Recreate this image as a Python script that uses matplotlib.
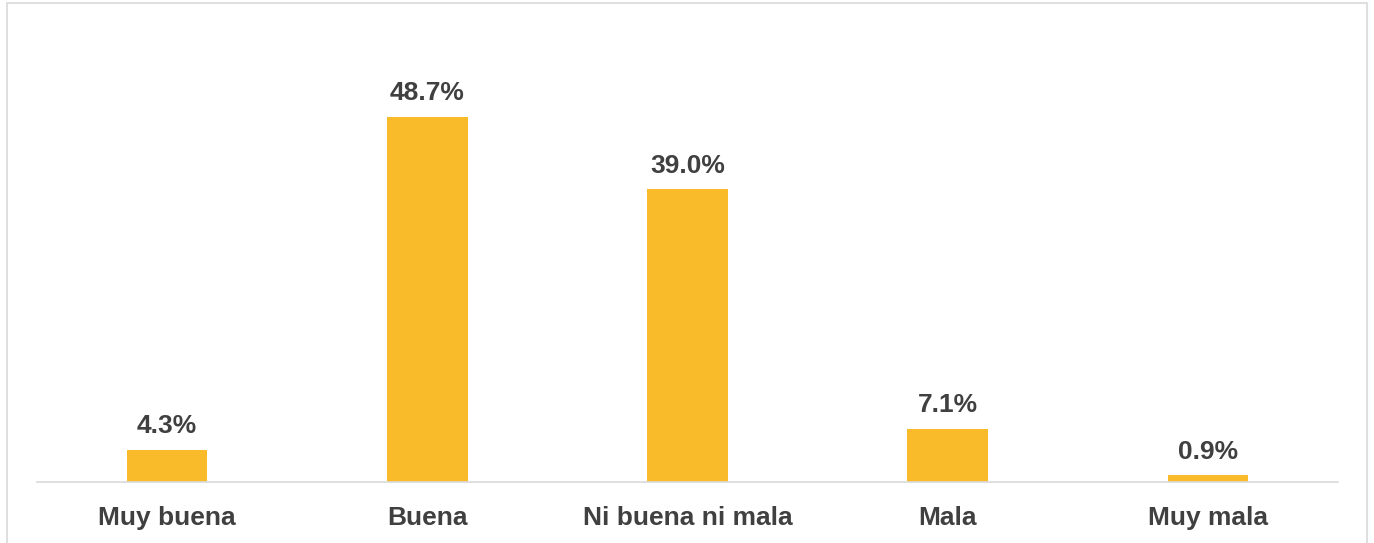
import matplotlib.pyplot as plt
from matplotlib.patches import Rectangle

categories = ["Muy buena", "Buena", "Ni buena ni mala", "Mala", "Muy mala"]
values = [4.3, 48.7, 39.0, 7.1, 0.9]
labels = ["4.3%", "48.7%", "39.0%", "7.1%", "0.9%"]

W, H = 1374, 543
plt.rcParams['font.family'] = ['Liberation Sans', 'DejaVu Sans']

fig = plt.figure(figsize=(W / 100, H / 100), dpi=100)
ax = fig.add_axes([37 / W, (H - 482) / H, (1338 - 37) / W, (482 - 30) / H])

x = range(len(categories))
ax.bar(x, values, width=0.31, color='#F9BB2A', zorder=2)
for xi, v, lab in zip(x, values, labels):
    ax.annotate(lab, (xi, v), xytext=(0, 17), textcoords='offset points',
                ha='center', va='center', fontsize=19, fontweight='bold', color='#404040')

ax.set_xlim(-0.5, 4.5)
ax.set_ylim(0, (482 - 30) / 7.5)
ax.set_xticks(list(x))
ax.set_xticklabels(categories, fontsize=19, fontweight='bold', color='#404040')
ax.tick_params(axis='x', length=0, pad=17)
ax.set_yticks([])
for s in ['top', 'left', 'right']:
    ax.spines[s].set_visible(False)
ax.spines['bottom'].set_color('#d9d9d9')
ax.spines['bottom'].set_linewidth(1.2)

# outer chart border
fig.patches.append(Rectangle((7 / W, -0.05), (1367 - 7) / W, 1.05 - 3 / H,
                             transform=fig.transFigure, fill=False,
                             edgecolor='#d9d9d9', linewidth=1.2))

fig.savefig('out.png', dpi=100)
